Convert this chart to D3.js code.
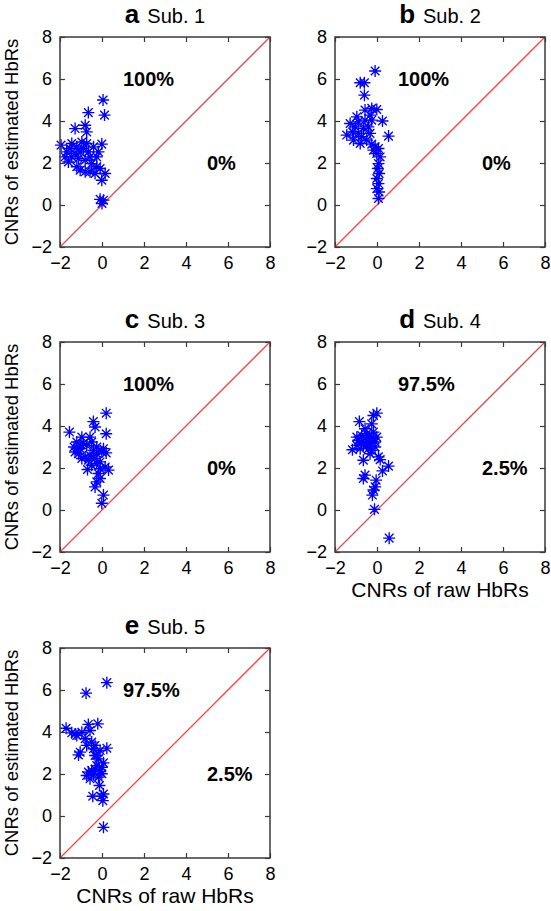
<!DOCTYPE html>
<html>
<head>
<meta charset="utf-8">
<script src="https://cdn.jsdelivr.net/npm/d3@7/dist/d3.min.js"></script>
<style>
html,body{margin:0;padding:0;background:#fff;}
svg{display:block;font-family:"Liberation Sans",Arial,sans-serif;}
</style>
</head>
<body>
<svg id="chart" width="551" height="911"></svg>
<script>
// ---------- data ----------
const panelLetters = ["a", "b", "c", "d", "e"];
const panelTitles = ["Sub. 1", "Sub. 2", "Sub. 3", "Sub. 4", "Sub. 5"];
const upperPct = ["100%", "100%", "100%", "97.5%", "97.5%"];
const lowerPct = ["0%", "0%", "0%", "2.5%", "2.5%"];
const tickValues = [-2, 0, 2, 4, 6, 8];
const axisDomain = [-2, 8];
const xLabel = "CNRs of raw HbRs";
const yLabel = "CNRs of estimated HbRs";

const sub1X = [0.05, 0.12, -0.65, -1.28, -0.8, -0.73, -1.95, -1.44, -1.68, -1.76, -1.6, -1.2, -1.04, -0.89, -0.65, -0.4, -0.17, -0.01, -0.57, -0.25, -1.28, -1.44, -1.04, -0.8, -0.57, -0.33, -0.09, 0.15, -0.01, -0.09, 0.07, -1.12, -0.8, -0.49, -0.96, -1.2, -0.73, -1.52, -0.25, 0.0];
const sub1Y = [5.0, 4.28, 4.4, 3.64, 3.8, 3.48, 2.85, 2.93, 2.53, 2.29, 2.05, 2.77, 2.53, 2.69, 2.53, 2.77, 2.53, 2.9, 2.29, 2.29, 2.45, 2.29, 1.66, 1.58, 1.58, 1.5, 1.74, 1.5, 1.18, 0.27, 0.23, 2.21, 2.13, 1.97, 3.0, 1.82, 2.93, 2.69, 1.82, 0.07];

const sub2X = [-0.09, -0.8, -0.6, -0.6, -0.57, -0.25, -0.01, -1.28, -0.89, -0.57, -0.25, 0.26, -1.44, -1.17, -0.89, -0.65, -0.41, 0.55, -1.12, -0.8, -0.49, -0.25, -0.09, 0.07, -0.01, 0.15, 0.07, 0.04, 0.1, -0.01, 0.07, -0.01, 0.1, 0.07, -1.04, -0.73, -0.33, -0.17, -0.96, -0.33];
const sub2Y = [6.38, 5.82, 5.82, 5.23, 4.52, 4.6, 4.55, 3.88, 3.96, 4.04, 4.04, 4.0, 3.33, 3.48, 3.41, 3.64, 3.72, 3.28, 3.09, 2.93, 3.09, 2.9, 2.77, 2.69, 2.45, 2.29, 1.97, 1.74, 1.5, 1.26, 1.02, 0.78, 0.62, 0.31, 3.72, 3.25, 3.41, 2.61, 4.2, 4.28];

const sub3X = [0.2, -0.41, -0.33, -1.55, 0.2, -0.96, -1.33, -1.04, -0.73, -0.49, -0.25, -0.01, 0.2, -1.12, -0.8, -0.57, -0.96, -0.65, -0.33, -0.09, -0.69, -0.25, 0.15, 0.31, -0.17, -0.09, -0.25, -0.33, 0.07, -0.01, -1.2, -0.89, -1.04, -0.25, -0.49, 0.07, -1.28, -0.41, -0.09, -0.57];
const sub3Y = [4.61, 4.21, 3.95, 3.71, 3.63, 3.47, 3.0, 2.92, 3.08, 3.24, 3.0, 2.76, 2.72, 2.68, 2.53, 2.6, 2.45, 2.37, 2.45, 2.29, 1.93, 2.21, 2.05, 1.9, 1.74, 1.5, 1.34, 1.1, 0.71, 0.32, 3.24, 3.16, 3.08, 2.68, 2.13, 2.92, 2.76, 2.84, 1.97, 3.47];

const sub4X = [-0.01, -0.17, -0.84, -0.25, -1.17, -0.89, -0.73, -0.49, -0.25, -0.01, -0.96, -0.65, -0.33, -0.09, -0.41, -0.65, 0.15, 0.55, 0.26, -0.57, -0.65, -0.04, -0.09, -0.17, -0.22, -0.12, 0.58, -0.57, -0.41, -0.8, -0.25, -0.09, -0.73, -0.49, -0.17, -0.96, -0.33, 0.07, -0.57, -0.33];
const sub4Y = [4.61, 4.5, 4.21, 4.1, 2.87, 3.32, 3.55, 3.63, 3.47, 3.47, 3.08, 3.08, 3.16, 3.0, 2.92, 2.37, 2.4, 2.09, 1.86, 1.66, 1.5, 1.42, 1.1, 0.95, 0.71, 0.03, -1.34, 3.39, 3.24, 2.92, 2.84, 3.24, 3.24, 3.08, 3.71, 3.47, 2.68, 2.53, 3.87, 3.39];

const sub5X = [0.23, -0.76, -1.71, -1.44, -1.2, -0.96, -0.65, -0.2, -0.8, -0.49, -0.33, 0.23, -1.04, -0.09, -0.25, -1.12, -0.17, 0.07, -0.01, -0.33, -0.65, -0.09, -0.41, -0.17, -0.57, -0.12, -0.44, -0.04, 0.07, 0.04, 0.07, -1.28, -0.57, -0.41, -0.73, -0.25, -0.49, -0.01, -0.73, -0.33];
const sub5Y = [6.35, 5.85, 4.18, 3.96, 3.83, 3.99, 4.36, 4.39, 3.68, 3.52, 3.36, 3.23, 3.04, 3.12, 2.88, 2.91, 2.72, 2.53, 2.32, 2.24, 2.09, 2.12, 1.96, 1.85, 1.77, 1.45, 0.94, 0.94, 1.05, 0.73, -0.54, 3.91, 4.07, 3.2, 3.36, 2.4, 2.16, 2.01, 1.93, 2.88];

const allX = [sub1X, sub2X, sub3X, sub4X, sub5X];
const allY = [sub1Y, sub2Y, sub3Y, sub4Y, sub5Y];

// ---------- layout ----------
const colLeft = [60, 335];
const rowTop = [37, 342, 648];
const plotSize = 210;
const panelGrid = [[0,0],[1,0],[0,1],[1,1],[0,2]];
const showYLabel = [true, false, true, false, true];
const showXLabel = [false, false, false, true, true];

const svg = d3.select("#chart");
const axisColor = "#3a3a3a";
const markerPath = "M-6,0H6M0,-6V6M-4.3,-4.3L4.3,4.3M-4.3,4.3L4.3,-4.3";

panelLetters.forEach((letter, i) => {
  const [c, r] = panelGrid[i];
  const x0 = colLeft[c], y0 = rowTop[r];
  const g = svg.append("g").attr("transform", `translate(${x0},${y0})`);
  const x = d3.scaleLinear().domain(axisDomain).range([0, plotSize]);
  const y = d3.scaleLinear().domain(axisDomain).range([plotSize, 0]);

  const styleAxis = sel => {
    sel.select(".domain").remove();
    sel.selectAll(".tick line").attr("stroke", axisColor).attr("stroke-width", 1.2);
    sel.selectAll(".tick text").attr("fill", "#000").attr("font-size", "18px")
      .attr("font-family", "Liberation Sans, Arial, sans-serif");
  };
  g.append("g").attr("transform", `translate(0,${plotSize})`)
    .call(d3.axisBottom(x).tickValues(tickValues).tickSize(-5).tickPadding(9).tickSizeOuter(0))
    .call(styleAxis);
  g.append("g")
    .call(d3.axisLeft(y).tickValues(tickValues).tickSize(-5).tickPadding(8).tickSizeOuter(0))
    .call(styleAxis);
  g.append("g")
    .call(d3.axisTop(x).tickValues(tickValues).tickSize(-5).tickFormat("").tickSizeOuter(0))
    .call(styleAxis);
  g.append("g").attr("transform", `translate(${plotSize},0)`)
    .call(d3.axisRight(y).tickValues(tickValues).tickSize(-5).tickFormat("").tickSizeOuter(0))
    .call(styleAxis);

  g.append("line")
    .attr("x1", x(axisDomain[0])).attr("y1", y(axisDomain[0]))
    .attr("x2", x(axisDomain[1])).attr("y2", y(axisDomain[1]))
    .attr("stroke", "#f04848").attr("stroke-width", 1.3);

  const pts = allX[i].map((v, k) => [v, allY[i][k]]);
  g.selectAll("path.pt").data(pts).enter().append("path")
    .attr("class", "pt")
    .attr("transform", d => `translate(${x(d[0])},${y(d[1])})`)
    .attr("d", markerPath)
    .attr("stroke", "#0000ff").attr("stroke-width", 1.35).attr("fill", "none");

  g.append("rect").attr("width", plotSize).attr("height", plotSize)
    .attr("fill", "none").attr("stroke", axisColor).attr("stroke-width", 1.5);

  g.append("text").attr("x", x(1)).attr("y", y(6)).attr("dy", "0.35em")
    .attr("font-size", "20px").attr("font-weight", "bold").text(upperPct[i]);
  g.append("text").attr("x", x(5)).attr("y", y(2)).attr("dy", "0.35em")
    .attr("font-size", "20px").attr("font-weight", "bold").text(lowerPct[i]);

  const t = g.append("text").attr("x", plotSize / 2).attr("y", -14)
    .attr("text-anchor", "middle");
  t.append("tspan").attr("font-weight", "bold").attr("font-size", "26px").text(letter);
  t.append("tspan").attr("font-size", "20px").attr("dx", 8).text(panelTitles[i]);

  if (showYLabel[i]) {
    g.append("text")
      .attr("transform", `translate(${18 - x0},${plotSize / 2}) rotate(-90)`)
      .attr("text-anchor", "middle").attr("font-size", "18.5px").text(yLabel);
  }
  if (showXLabel[i]) {
    g.append("text").attr("x", plotSize / 2).attr("y", plotSize + 45)
      .attr("text-anchor", "middle").attr("font-size", "21px").text(xLabel);
  }
});
</script>
</body>
</html>
